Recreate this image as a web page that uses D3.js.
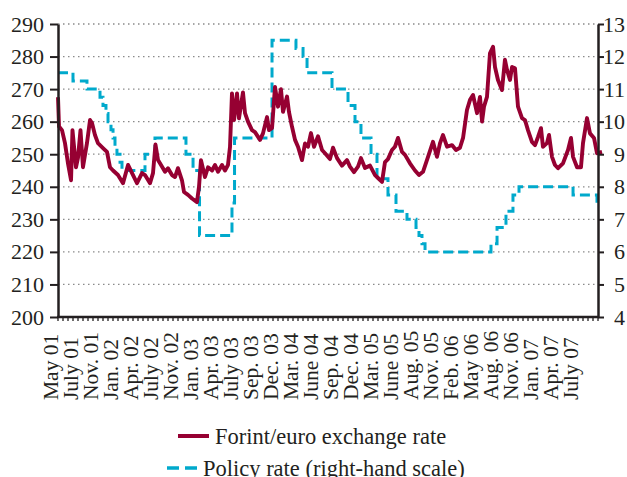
<!DOCTYPE html>
<html>
<head>
<meta charset="utf-8">
<script src="https://cdn.jsdelivr.net/npm/d3@7"></script>
<style>
body { margin: 0; background: #fff; }
text { font-family: "Liberation Serif", "Times New Roman", serif; fill: #231f20; }
</style>
</head>
<body>
<svg width="627" height="477"></svg>
<script>
// forint/euro, time in decimal years
var fxTime = [2001.333,2001.345,2001.380,2001.415,2001.450,2001.486,2001.503,2001.544,2001.568,2001.597,
  2001.626,2001.673,2001.709,2001.732,2001.767,2001.802,2001.861,2001.908,2001.943,2001.979,
  2002.037,2002.096,2002.155,2002.202,2002.260,2002.319,2002.354,2002.413,2002.448,2002.477,
  2002.507,2002.565,2002.589,2002.624,2002.671,2002.706,2002.741,2002.788,2002.812,2002.859,
  2002.906,2002.964,2002.988,2003.011,2003.058,2003.094,2003.141,2003.176,2003.211,2003.258,
  2003.293,2003.328,2003.352,2003.375,2003.399,2003.434,2003.457,2003.504,2003.528,2003.563,
  2003.610,2003.645,2003.704,2003.739,2003.786,2003.810,2003.845,2003.880,2003.915,2003.950,
  2003.974,2004.021,2004.044,2004.079,2004.115,2004.150,2004.197,2004.232,2004.267,2004.302,
  2004.338,2004.385,2004.432,2004.467,2004.525,2004.561,2004.608,2004.666,2004.725,2004.760,
  2004.807,2004.854,2004.889,2004.936,2004.995,2005.054,2005.089,2005.136,2005.171,2005.206,
  2005.253,2005.288,2005.324,2005.371,2005.406,2005.464,2005.523,2005.570,2005.617,2005.676,
  2005.734,2005.781,2005.817,2005.852,2005.899,2005.957,2006.004,2006.051,2006.087,2006.133,
  2006.169,2006.204,2006.251,2006.286,2006.310,2006.333,2006.368,2006.403,2006.439,2006.462,
  2006.497,2006.544,2006.579,2006.603,2006.638,2006.662,2006.697,2006.732,2006.779,2006.814,
  2006.849,2006.896,2006.932,2006.967,2007.002,2007.025,2007.072,2007.096,2007.131,2007.166,
  2007.202,2007.260,2007.319,2007.354,2007.378,2007.425,2007.471,2007.495,2007.542,2007.577,
  2007.624,2007.659,2007.718];
var fxRate = [267.5,258.5,257.4,253.4,247.2,242,257.4,246,249,257.4,
  246,253.4,260.5,259.6,255.9,253.4,251.9,250.7,246,245,
  243.6,241.1,246.7,244.2,241.1,244.2,243.6,241.1,244.2,253,
  248.2,245.7,244.6,245.7,243.6,243,245.7,242,238.4,237.5,
  236.4,235.3,240,248.2,243,246,245,246.7,244.6,246.7,
  245,246.7,252.3,268.7,260.5,268.7,261,269,262.6,260,
  257.4,256.8,254.4,256.4,261.4,257.4,258,270.7,264.6,270,
  263,267.7,263,258.5,254.4,252.3,248.2,253.3,252.3,256.5,
  252.3,255.5,251.3,250.3,248.5,252,248.8,246.5,248.2,246.2,
  244.5,246.2,248.8,245.8,246.5,243.6,242.7,241.5,247.6,248.5,
  251.3,252.3,255,250.7,249.8,247.2,245,243.6,244.6,249.2,
  253.8,249.2,253.4,255.9,252.3,252.8,251.3,252,255,263.6,
  266.7,268.2,262.6,267.6,260,264.6,267.6,281,283,276.8,
  272.8,269.7,279,275.9,272.8,276.8,276.4,264.6,261.1,260.5,
  257.4,253.8,252.8,255.3,258,252.3,253.4,255.9,249.2,246.7,
  245.7,247.2,251.3,255,249.2,246,246,253.4,261.1,256.4,
  255,250.3,250.7];

// policy rate, each value holds from its date to the next
var policyTime = [2001.333,2001.509,2001.673,2001.826,2001.861,2001.896,2001.920,2001.955,2001.979,2002.002,
  2002.025,2002.061,2002.084,2002.354,2002.471,2002.835,2002.918,2002.994,2003.375,2003.405,
  2003.845,2004.126,2004.209,2004.256,2004.549,2004.737,2004.819,2004.889,2005.007,2005.077,
  2005.206,2005.300,2005.429,2005.535,2005.570,2005.605,2005.641,2006.415,2006.486,2006.591,
  2006.673,2006.744,2007.378,2007.659,2007.695];
var policyRate = [11.5,11.25,11,10.75,10.5,10.25,10,9.75,9.5,9.25,
  9,8.75,8.5,9,9.5,9,8.5,6.5,7.5,9.5,
  12.5,12.25,12,11.5,11,10.5,10,9.5,9,8.25,
  7.75,7.25,7,6.75,6.5,6.25,6,6.25,6.75,7.25,
  7.75,8,7.75,7.5,7.5];

var dateLabels = ["May 01","July 01","Nov. 01","Jan. 02","Apr. 02","July 02","Nov. 02","Jan. 03",
  "Apr. 03","July 03","Sep. 03","Dec. 03","Mar. 04","June 04","Sep. 04","Dec. 04","Mar. 05",
  "June 05","Aug. 05","Nov. 05","Feb. 06","May 06","Aug. 06","Nov. 06","Jan. 07","Apr. 07","July 07"];
var leftTicks = [200,210,220,230,240,250,260,270,280,290];
var rightTicks = [4,5,6,7,8,9,10,11,12,13];

var svg = d3.select("svg"),
    plotL = 58, plotR = 598, plotT = 24, plotB = 317;

var x = d3.scaleLinear().domain([2001.333, 2007.671]).range([plotL, plotR]);
var yL = d3.scaleLinear().domain([200, 290]).range([plotB, plotT]);
var yR = d3.scaleLinear().domain([4, 13]).range([plotB, plotT]);
var xLab = d3.scalePoint().domain(dateLabels).range([52.5, 573]);

// dotted grid
svg.append("g").selectAll("line")
  .data(leftTicks.slice(1))
  .enter().append("line")
    .attr("x1", plotL).attr("x2", plotR)
    .attr("y1", function(d){ return yL(d); })
    .attr("y2", function(d){ return yL(d); })
    .attr("stroke", "#8a8a8a")
    .attr("stroke-width", 1.3)
    .attr("stroke-dasharray", "1.5,3.5");

var lineFx = d3.line()
    .x(function(d, i){ return x(fxTime[i]); })
    .y(function(d){ return yL(d); });

var linePol = d3.line()
    .curve(d3.curveStepAfter)
    .x(function(d, i){ return x(policyTime[i]); })
    .y(function(d){ return yR(d); });

svg.append("path")
  .attr("d", linePol(policyRate))
  .attr("fill", "none")
  .attr("stroke", "#00a9cc")
  .attr("stroke-width", 3)
  .attr("stroke-dasharray", "10,5");

svg.append("path")
  .attr("d", lineFx(fxRate))
  .attr("fill", "none")
  .attr("stroke", "#960032")
  .attr("stroke-width", 3.9)
  .attr("stroke-linejoin", "round");

// axes
var gl = svg.append("g")
  .attr("transform", "translate(" + plotL + ",0)")
  .call(d3.axisLeft(yL).tickValues(leftTicks).tickSize(8).tickSizeOuter(0).tickPadding(6));
var gr = svg.append("g")
  .attr("transform", "translate(" + plotR + ",0)")
  .call(d3.axisRight(yR).tickValues(rightTicks).tickSize(6).tickSizeOuter(0));
[gl, gr].forEach(function(g){
  g.select(".domain").attr("stroke", "#231f20").attr("stroke-width", 2.5);
  g.selectAll(".tick line").attr("stroke", "#231f20").attr("stroke-width", 2);
  g.selectAll("text").attr("font-size", 22).attr("font-family", null).attr("fill", "#231f20");
});
gr.selectAll("text").attr("x", 27).attr("text-anchor", "end");

// bottom axis with small ticks
var minor = d3.scaleLinear().domain([0, 108]).range([plotL, plotR]);
svg.append("g").selectAll("line")
  .data(d3.range(0, 109))
  .enter().append("line")
    .attr("x1", function(d){ return minor(d); })
    .attr("x2", function(d){ return minor(d); })
    .attr("y1", plotB).attr("y2", plotB + 4)
    .attr("stroke", "#231f20").attr("stroke-width", 1.3);
svg.append("line")
  .attr("x1", plotL - 1).attr("x2", plotR + 1)
  .attr("y1", plotB).attr("y2", plotB)
  .attr("stroke", "#231f20").attr("stroke-width", 2.5);

svg.append("g").selectAll("text")
  .data(dateLabels)
  .enter().append("text")
    .attr("transform", function(d){ return "translate(" + xLab(d) + ",400) rotate(-90)"; })
    .attr("dy", "0.24em")
    .attr("font-size", 21.5)
    .text(function(d){ return d; });

// legend
var lg = svg.append("g");
lg.append("line").attr("x1", 178).attr("x2", 209).attr("y1", 436).attr("y2", 436)
  .attr("stroke", "#960032").attr("stroke-width", 4);
lg.append("text").attr("x", 215).attr("y", 436).attr("dy", "0.34em")
  .attr("font-size", 22.5).text("Forint/euro exchange rate");
lg.append("line").attr("x1", 167).attr("x2", 198).attr("y1", 468).attr("y2", 468)
  .attr("stroke", "#00a9cc").attr("stroke-width", 3.5).attr("stroke-dasharray", "12,6");
lg.append("text").attr("x", 203).attr("y", 468).attr("dy", "0.34em")
  .attr("font-size", 22.5).text("Policy rate (right-hand scale)");
</script>
</body>
</html>
